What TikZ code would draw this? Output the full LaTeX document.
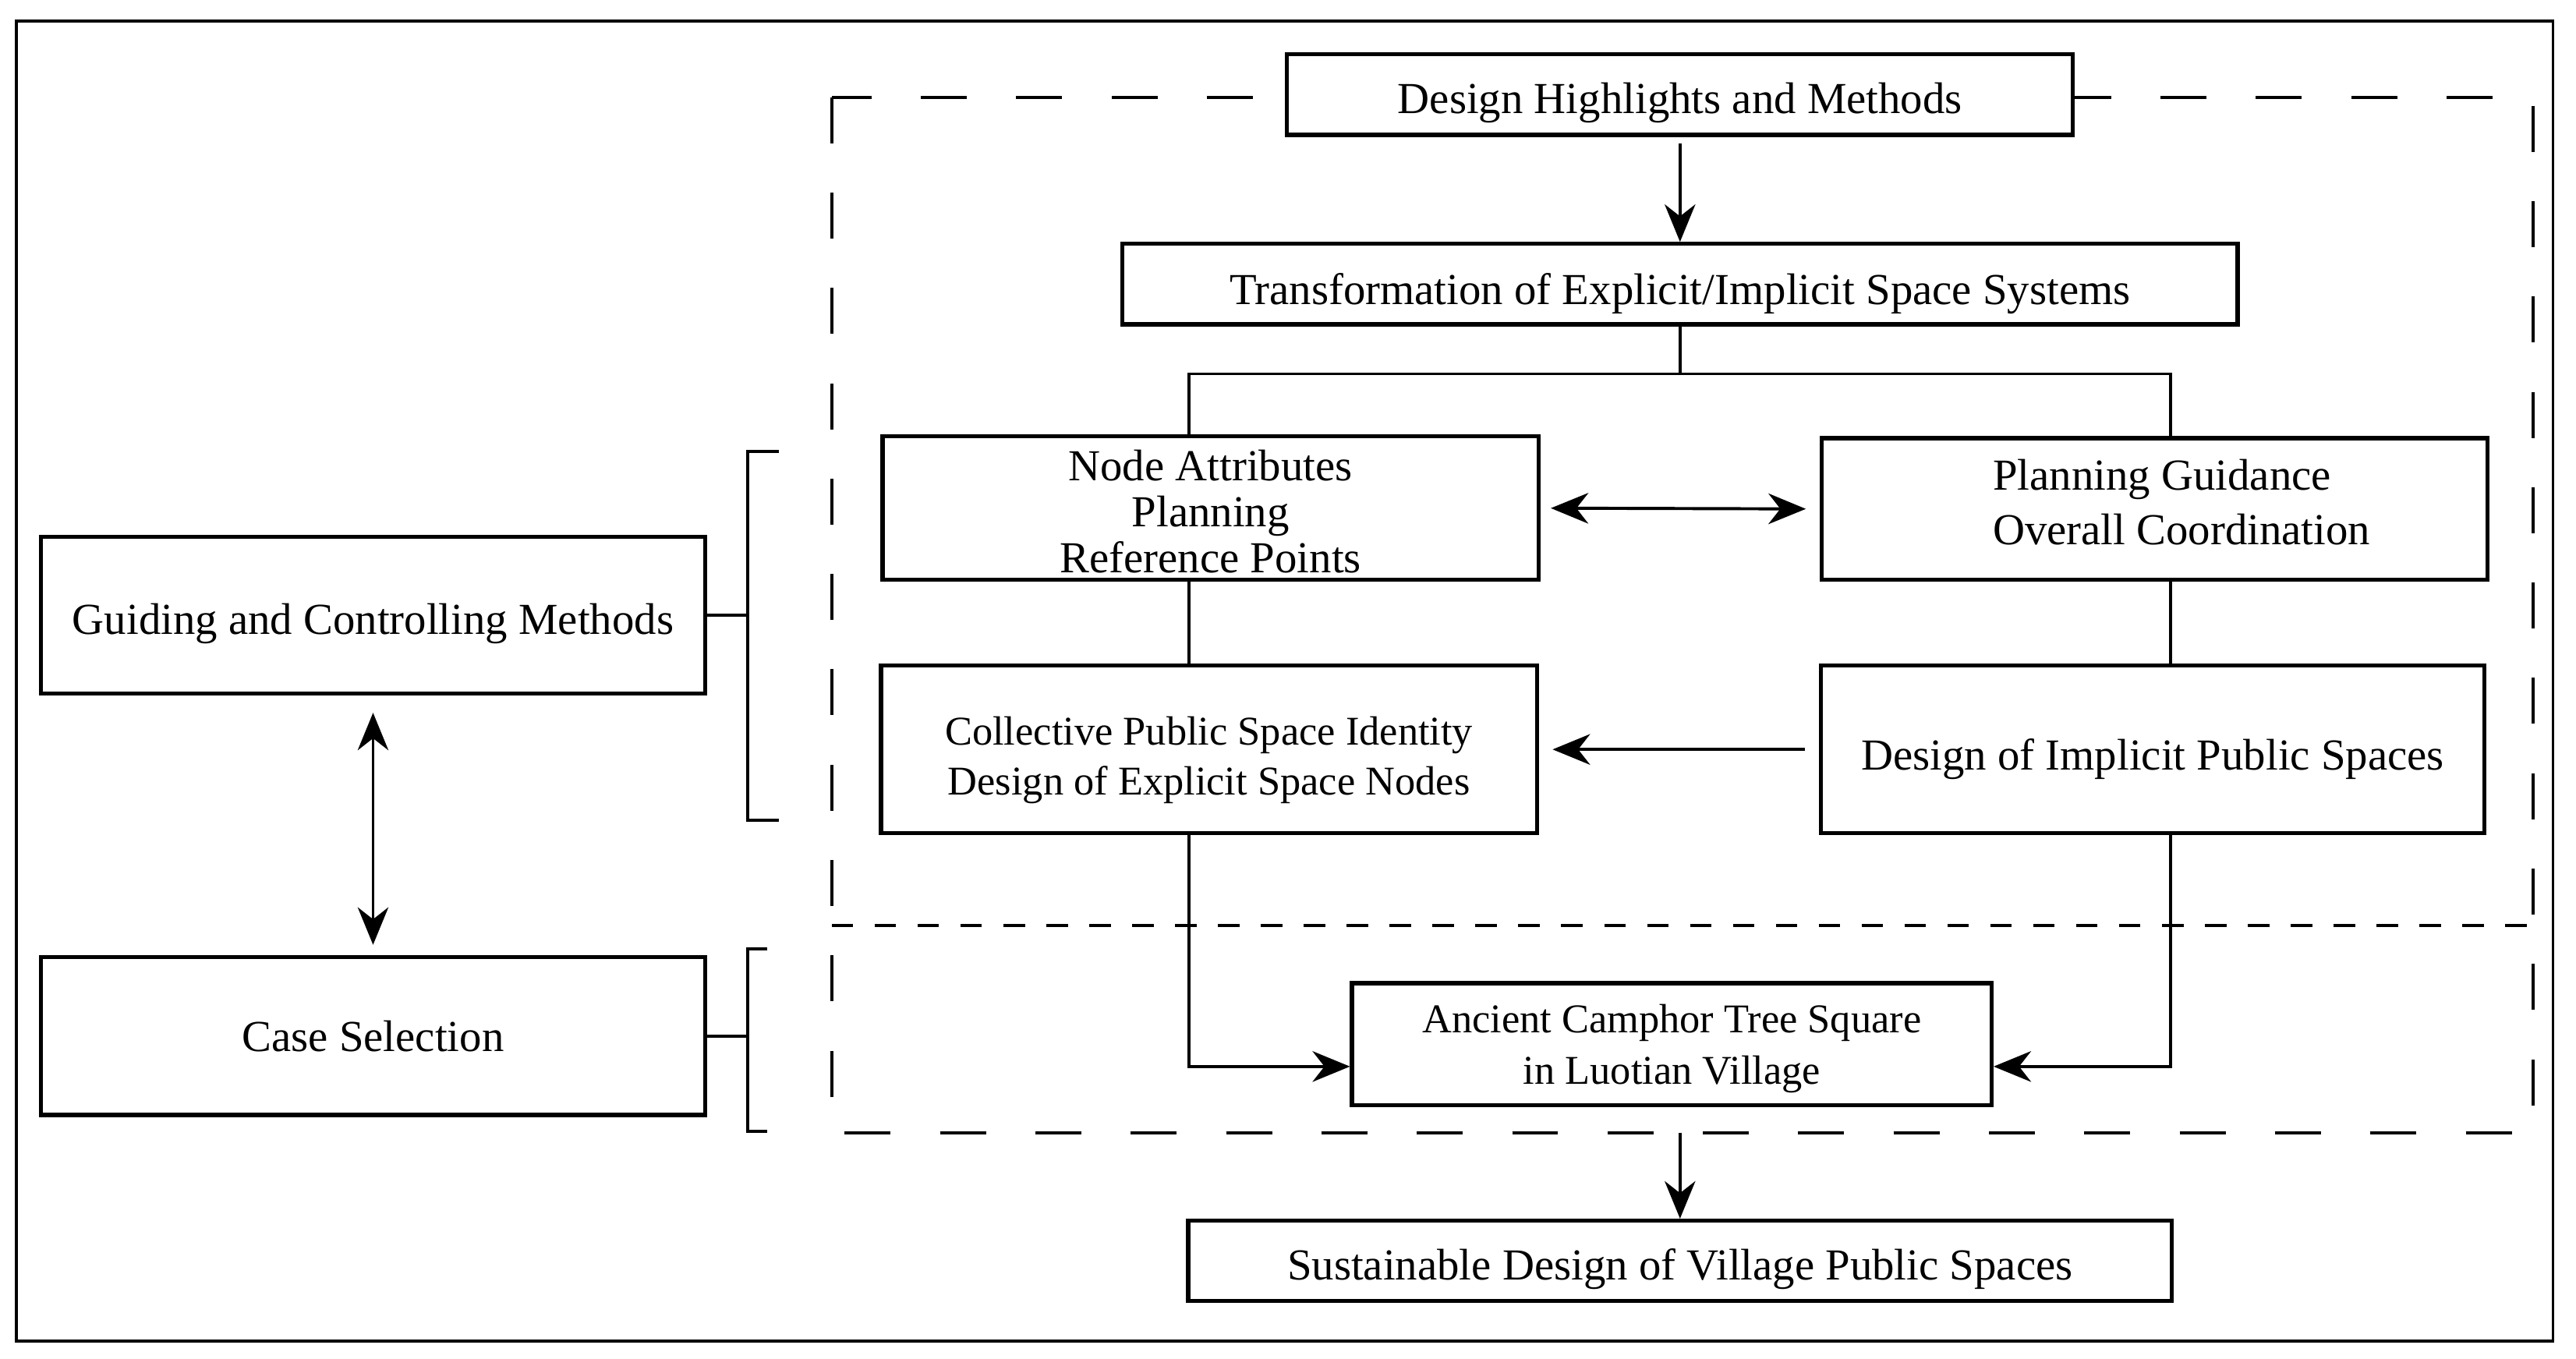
\documentclass[tikz,border=0pt]{standalone}
\usepackage{fontspec}
\setmainfont{Liberation Serif}
\usetikzlibrary{arrows.meta}
\usetikzlibrary{positioning}

\begin{document}
\begin{tikzpicture}[x=0.017cm,y=-0.017cm,line width=0.9pt,>={Stealth[length=11pt,width=9pt,inset=3.5pt]}]
	\tikzstyle{stage} = [rectangle, draw, fill=white, line width=1.2pt, align=center, inner sep=2pt, text depth=0pt, font=\fontsize{13}{15}\selectfont]
	\tikzstyle{frame} = [dash pattern=on 13.5pt off 14.5pt]
	\tikzstyle{seam} = [dash pattern=on 6.3pt off 6.3pt]
	\useasboundingbox (0,0) rectangle (1564,825);
	\draw (10,13) rectangle (1550,814);
	\draw [frame] (505,59) rectangle (1538,688);
	\draw [seam] (505,562) -- (1538,562);
	\coordinate (lx) at (722,0);
	\coordinate (rx) at (1318,0);
	\coordinate (br) at (454,0);
	\coordinate (bus) at (1020,227);
	\coordinate (lane) at (0,647.5);
	\coordinate (exit) at (1020,688);
	\node [stage,minimum width=8.11cm,minimum height=0.83cm,text height=11pt] (design) at (1020,57.5) {Design Highlights and Methods};
	\node [stage,minimum width=11.51cm,minimum height=0.83cm,text height=12pt] (trans) at (1020,172.5) {Transformation of Explicit/Implicit Space Systems};
	\node [stage,minimum width=6.77cm,minimum height=1.48cm,text height=37.9pt,font=\fontsize{13}{13.5}\selectfont] (attr) at (735,308.5) {Node Attributes\\Planning\\Reference Points};
	\node [stage,minimum width=6.87cm,minimum height=1.46cm,align=left,text depth=4pt,font=\fontsize{13}{16}\selectfont] (plan) at (1308,309) {\hspace*{16pt}Planning Guidance\\\hspace*{16pt}Overall Coordination};
	\node [stage,minimum width=6.77cm,minimum height=1.73cm,text height=26.6pt,font=\fontsize{12}{14.6}\selectfont] (coll) at (734,455) {Collective Public Space Identity\\Design of Explicit Space Nodes};
	\node [stage,minimum width=6.85cm,minimum height=1.73cm,text height=12pt] (impl) at (1307,455) {Design of Implicit Public Spaces};
	\node [stage,minimum width=6.6cm,minimum height=1.26cm,font=\fontsize{12}{15}\selectfont] (ancient) at (1015,634) {Ancient Camphor Tree Square\\in Luotian Village};
	\node [stage,minimum width=10.15cm,minimum height=0.83cm,text height=11pt] (sust) at (1020,765.5) {Sustainable Design of Village Public Spaces};
	\node [stage,minimum width=6.85cm,minimum height=1.62cm,text height=11pt] (guide) at (226.5,373.5) {Guiding and Controlling Methods};
	\node [stage,minimum width=6.85cm,minimum height=1.63cm] (case) at (226.5,629) {Case Selection};
	% right part
	\draw [->,shorten <=2pt] (design.south) -- (trans.north);
	\draw (trans.south) -- (bus);
	\draw (attr.north -| lx) |- (bus) -| (plan.north -| rx);
	\draw [<->,shorten <=3pt,shorten >=4pt] (attr.east) -- (plan.west);
	\draw (attr.south -| lx) -- (coll.north -| lx);
	\draw (plan.south -| rx) -- (impl.north -| rx);
	\draw [->,shorten <=4pt,shorten >=4pt] (impl.west) -- (coll.east);
	\draw [->] (coll.south -| lx) |- (ancient.west |- lane);
	\draw [->] (impl.south -| rx) |- (ancient.east |- lane);
	\draw [->] (sust.north |- exit) -- (sust.north);
	% left part
	\draw [<->,shorten <=5pt,shorten >=3pt] (guide.south) -- (case.north);
	\draw (guide.east) -- (guide.east -| br);
	\draw (473,274) -- (br |- 0,274) -- (br |- 0,498) -- (473,498);
	\draw (case.east) -- (case.east -| br);
	\draw (466,576) -- (br |- 0,576) -- (br |- 0,687) -- (466,687);
\end{tikzpicture}
\end{document}
